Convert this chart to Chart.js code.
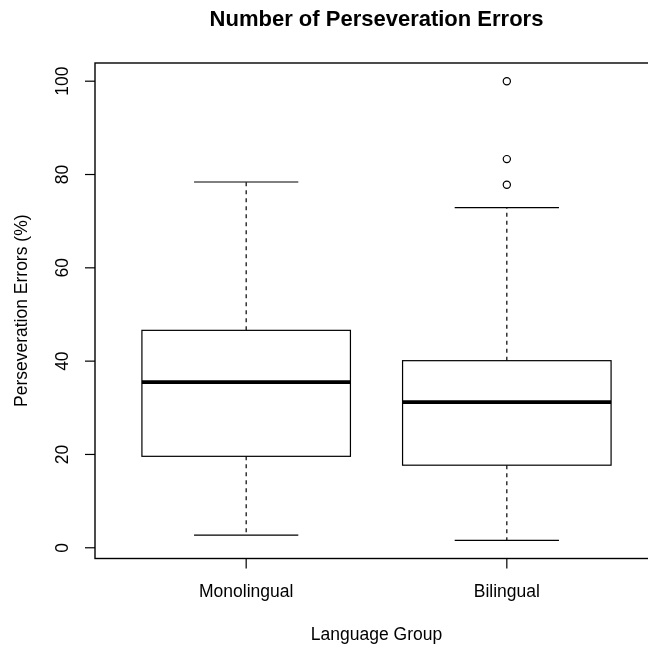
<!DOCTYPE html>
<html>
<head>
<meta charset="utf-8">
<script src="https://cdn.jsdelivr.net/npm/chart.js@4/dist/chart.umd.min.js"></script>
<style>
  html, body { margin: 0; padding: 0; background: #fff; overflow: hidden; }
  #wrap { width: 670px; height: 648px; }
</style>
</head>
<body>
<div id="wrap"><canvas id="c" width="670" height="648"></canvas></div>
<script>
// Five-number summaries per language group (percent of perseveration errors)
const groups = ['Monolingual', 'Bilingual'];
const whiskerLow = [2.7, 1.6];
const q1 = [19.6, 17.7];
const median = [35.5, 31.2];
const q3 = [46.6, 40.1];
const whiskerHigh = [78.4, 72.9];
const outliers = [[], [100, 83.3, 77.8]];
const yTicks = [0, 20, 40, 60, 80, 100];

const titleText = 'Number of Perseveration Errors';
const xTitle = 'Language Group';
const yTitle = 'Perseveration Errors (%)';
const FONT = '"Liberation Sans", Arial, Helvetica, sans-serif';

const outlierPoints = [];
outliers.forEach((vals, i) => vals.forEach(v => outlierPoints.push({ x: i + 1, y: v })));

// Box-and-whisker marks plus axes, title and frame, all placed through the chart scales
const boxPlotPlugin = {
  id: 'boxPlot',
  beforeDatasetsDraw(chart) {
    const { ctx, scales: { x, y } } = chart;
    ctx.save();
    const boxHalf = 0.4, capHalf = 0.2;
    groups.forEach((g, i) => {
      const cx = x.getPixelForValue(i + 1);
      const l = x.getPixelForValue(i + 1 - boxHalf);
      const r = x.getPixelForValue(i + 1 + boxHalf);
      const cl = x.getPixelForValue(i + 1 - capHalf);
      const cr = x.getPixelForValue(i + 1 + capHalf);
      const yq1 = y.getPixelForValue(q1[i]);
      const yq3 = y.getPixelForValue(q3[i]);
      const ymed = y.getPixelForValue(median[i]);
      const ylo = y.getPixelForValue(whiskerLow[i]);
      const yhi = y.getPixelForValue(whiskerHigh[i]);

      // dashed whiskers
      ctx.strokeStyle = '#000';
      ctx.lineWidth = 1.2;
      ctx.setLineDash([4, 4]);
      ctx.beginPath();
      ctx.moveTo(cx, yq3); ctx.lineTo(cx, yhi);
      ctx.moveTo(cx, yq1); ctx.lineTo(cx, ylo);
      ctx.stroke();
      ctx.setLineDash([]);

      // staples
      ctx.beginPath();
      ctx.moveTo(cl, yhi); ctx.lineTo(cr, yhi);
      ctx.moveTo(cl, ylo); ctx.lineTo(cr, ylo);
      ctx.stroke();

      // box
      ctx.fillStyle = '#fff';
      ctx.fillRect(l, yq3, r - l, yq1 - yq3);
      ctx.strokeRect(l, yq3, r - l, yq1 - yq3);

      // median
      ctx.lineWidth = 3.8;
      ctx.lineCap = 'butt';
      ctx.beginPath();
      ctx.moveTo(l, ymed); ctx.lineTo(r, ymed);
      ctx.stroke();
    });
    ctx.restore();
  },
  afterDraw(chart) {
    const { ctx, chartArea: a, scales: { x, y } } = chart;
    ctx.save();
    ctx.strokeStyle = '#000';
    ctx.fillStyle = '#000';

    // plot frame
    ctx.lineWidth = 1.4;
    ctx.strokeRect(a.left, a.top, a.right - a.left, a.bottom - a.top);

    // y axis ticks and rotated labels
    ctx.lineWidth = 1.2;
    ctx.font = '17.5px ' + FONT;
    ctx.textAlign = 'center';
    ctx.textBaseline = 'middle';
    yTicks.forEach(v => {
      const py = y.getPixelForValue(v);
      ctx.beginPath();
      ctx.moveTo(a.left, py); ctx.lineTo(a.left - 10, py);
      ctx.stroke();
      ctx.save();
      ctx.translate(a.left - 32, py);
      ctx.rotate(-Math.PI / 2);
      ctx.fillText(String(v), 0, 0);
      ctx.restore();
    });

    // x axis ticks and labels
    groups.forEach((g, i) => {
      const px = x.getPixelForValue(i + 1);
      ctx.beginPath();
      ctx.moveTo(px, a.bottom); ctx.lineTo(px, a.bottom + 10);
      ctx.stroke();
      ctx.fillText(g, px, a.bottom + 34);
    });

    // axis titles
    const midX = (a.left + a.right) / 2;
    const midY = (a.top + a.bottom) / 2;
    ctx.fillText(xTitle, midX, a.bottom + 77);
    ctx.save();
    ctx.translate(22, midY);
    ctx.rotate(-Math.PI / 2);
    ctx.fillText(yTitle, 0, 0);
    ctx.restore();

    // main title
    ctx.font = 'bold 22px ' + FONT;
    ctx.fillText(titleText, midX, 20);
    ctx.restore();
  }
};

new Chart(document.getElementById('c'), {
  type: 'scatter',
  data: {
    datasets: [{
      label: 'Outliers',
      data: outlierPoints,
      pointStyle: 'circle',
      pointRadius: 3.6,
      pointBorderWidth: 1.2,
      pointBorderColor: '#000',
      pointBackgroundColor: 'rgba(0,0,0,0)'
    }]
  },
  options: {
    responsive: false,
    animation: false,
    layout: { padding: { left: 95, top: 63, right: 12, bottom: 89.5 } },
    plugins: { legend: { display: false }, tooltip: { enabled: false }, title: { display: false } },
    scales: {
      x: { type: 'linear', min: 0.42, max: 2.58, display: false },
      y: { type: 'linear', min: -2.3, max: 103.9, display: false }
    }
  },
  plugins: [boxPlotPlugin]
});
</script>
</body>
</html>
